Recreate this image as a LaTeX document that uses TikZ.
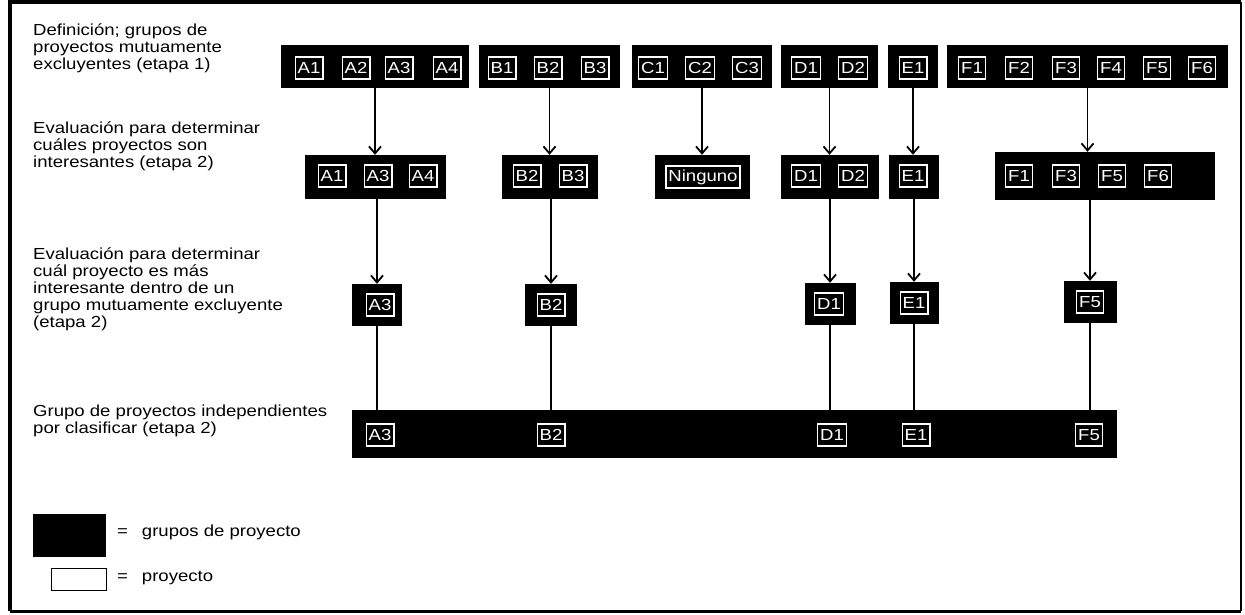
\documentclass[tikz,border=0pt]{standalone}
\usepackage{fontspec}
\setmainfont{Liberation Sans}
\usepackage{graphicx}
\usetikzlibrary{arrows.meta}
\newcommand\st[1]{\scalebox{1.16}[1]{#1}}
\newcommand\lbl[1]{\st{\begin{tabular}{@{}l@{}}#1\end{tabular}}}
\newcommand\labfont{\fontsize{16}{17}\selectfont}
\newcommand\itemfont{\fontsize{16}{17}\selectfont}
\begin{document}
\begin{tikzpicture}[x=1pt,y=-1pt,
 grp/.style={fill=black, inner sep=0pt, minimum height=43pt},
 item/.style={draw=white, line width=1.3pt, text=white, inner xsep=2.5pt, inner ysep=0pt, minimum height=22pt, font=\itemfont},
 arr/.style={line width=1.8pt, -{Straight Barb[length=7pt,width=12pt,line width=1.8pt]}},
 conn/.style={line width=1.8pt},
 lab/.style={anchor=west, inner sep=0pt, font=\labfont},
 frame/.style={line width=3.5pt}]
\useasboundingbox (0,0) rectangle (1245,615);
% frame
\coordinate (tl) at (10,2);
\coordinate (tr) at (1241,2);
\coordinate (bl) at (10,611);
\coordinate (br) at (1241,611);
\draw[frame] (bl) -- (tl) -- (tr);
\draw[line width=3pt] (bl) -- (br);
\draw[line width=1.2pt] (tr) -- (br);

% left labels
\node[lab] (t1) at (33,49) {\lbl{Definición; grupos de\\proyectos mutuamente\\excluyentes (etapa 1)}};
\node[lab] (t2) at (33,147) {\lbl{Evaluación para determinar\\cuáles proyectos son\\interesantes (etapa 2)}};
\node[lab] (t3) at (33,290) {\lbl{Evaluación para determinar\\cuál proyecto es más\\interesante dentro de un\\grupo mutuamente excluyente\\(etapa 2)}};
\node[lab] (t4) at (33,422) {\lbl{Grupo de proyectos independientes\\por clasificar (etapa 2)}};

% row 1
\node[grp, minimum width=188pt] (gA1) at (375,66.5) {};
\node[grp, minimum width=141pt] (gB1) at (549.5,66.5) {};
\node[grp, minimum width=140pt] (gC1) at (702,66.5) {};
\node[grp, minimum width=97pt] (gD1) at (829.5,66.5) {};
\node[grp, minimum width=50pt] (gE1) at (913,66.5) {};
\node[grp, minimum width=281pt] (gF1) at (1087.5,66.5) {};
\foreach \n/\x in {A1/309,A2/356,A3/399,A4/447,B1/502,B2/548,B3/595,C1/653,C2/700,C3/747,D1/806,D2/853,E1/913,F1/972,F2/1019,F3/1066,F4/1111,F5/1157,F6/1202}
  \node[item] (i1\n) at (\x,68) {\st{\n}};

% row 2
\node[grp, minimum width=141pt, minimum height=44pt] (gA2) at (375.5,177) {};
\node[grp, minimum width=96pt, minimum height=44pt] (gB2) at (550,177) {};
\node[grp, minimum width=95pt, minimum height=44pt] (gC2) at (702,177) {};
\node[grp, minimum width=98pt, minimum height=44pt] (gD2) at (830,177) {};
\node[grp, minimum width=50pt, minimum height=44pt] (gE2) at (914,177) {};
\node[grp, minimum width=220pt, minimum height=48pt] (gF2) at (1105,176) {};
\foreach \n/\x in {A1/332,A3/378,A4/423,B2/527,B3/573,D1/806,D2/853,E1/913,F1/1019,F3/1066,F5/1112,F6/1158}
  \node[item] (i2\n) at (\x,176) {\st{\n}};
\node[item] (i2C) at (703,177) {\st{Ninguno}};

% row 3
\node[grp, minimum width=50pt, minimum height=42pt] (gA3) at (377,305) {};
\node[grp, minimum width=52pt, minimum height=42pt] (gB3) at (551,305) {};
\node[grp, minimum width=51pt, minimum height=42pt] (gD3) at (830,304) {};
\node[grp, minimum width=49pt, minimum height=42pt] (gE3) at (914,303) {};
\node[grp, minimum width=53pt, minimum height=42pt] (gF3) at (1090,302) {};
\foreach \n/\x/\y in {A3/380/305,B2/551/305,D1/829/304,E1/914/303,F5/1090/302}
  \node[item] (i3\n) at (\x,\y) {\st{\n}};

% row 4
\node[grp, minimum width=765pt, minimum height=48pt] (g4) at (734.5,434) {};
\foreach \n/\x in {A3/380,B2/551,D1/832,E1/916,F5/1089}
  \node[item] (i4\n) at (\x,435) {\st{\n}};

% arrows row1 -> row2
\draw[arr] (gA1.south) -- (gA1.south |- gA2.north);
\draw[arr] (gB1.south) -- (gB1.south |- gB2.north);
\draw[arr] (gC1.south) -- (gC1.south |- gC2.north);
\draw[arr] (gD1.south) -- (gD1.south |- gD2.north);
\draw[arr] (gE1.south) -- (gE1.south |- gE2.north);
\draw[arr] (gF1.south) -- (gF1.south |- gF2.north);
% arrows row2 -> row3
\draw[arr] (gA2.south -| gA3.north) -- (gA3.north);
\draw[arr] (gB2.south -| gB3.north) -- (gB3.north);
\draw[arr] (gD2.south -| gD3.north) -- (gD3.north);
\draw[arr] (gE2.south -| gE3.north) -- (gE3.north);
\draw[arr] (gF2.south -| gF3.north) -- (gF3.north);
% lines row3 -> row4
\foreach \g in {A,B,D,E,F}
  \draw[conn] (g\g3.south) -- (g\g3.south |- g4.north);

% legend
\node[fill=black, minimum width=73pt, minimum height=43pt, inner sep=0pt] (lg) at (69.5,535.5) {};
\node[draw=black, line width=0.8pt, minimum width=55pt, minimum height=22pt, inner sep=0pt] (lp) at (78.5,579) {};
\node[lab] (lgt) at (117,532) {\st{=\hspace{0.75em}grupos de proyecto}};
\node[lab] (lpt) at (117,578) {\st{=\hspace{0.75em}proyecto}};
\end{tikzpicture}
\end{document}
